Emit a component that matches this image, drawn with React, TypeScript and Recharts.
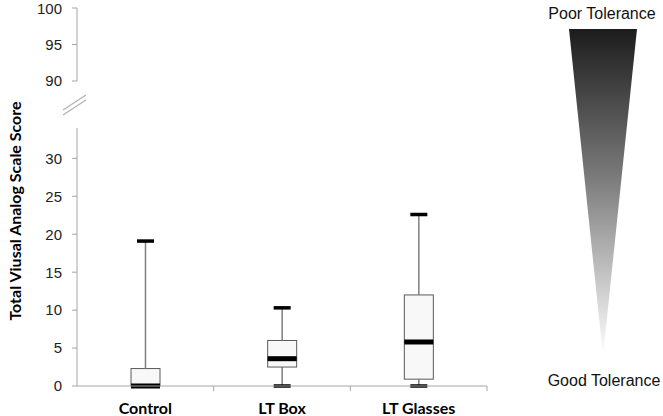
import React from "react";
import { ComposedChart, Bar, XAxis, YAxis } from "recharts";

const categories = ["Control", "LT Box", "LT Glasses"];
const minValues = [0, 0, 0];
const q1Values = [0, 2.5, 0.9];
const medianValues = [0, 3.6, 5.8];
const q3Values = [2.3, 6.0, 12.0];
const maxValues = [19.1, 10.3, 22.6];

const lowerTicks = [0, 5, 10, 15, 20, 25, 30];
const upperTicks = [90, 95, 100];

const data = categories.map((name, i) => ({
  name,
  s0: minValues[i],
  s1: q1Values[i] - minValues[i],
  s2: medianValues[i] - q1Values[i],
  s3: q3Values[i] - medianValues[i],
  s4: maxValues[i] - q3Values[i],
}));

const AXIS = "#a6a6a6";
const TICKFONT = "'Liberation Sans', Arial, sans-serif";
const BOLDFONT = "Lato, 'Open Sans', sans-serif";
const CAP_W = 17;
const CAP_H = 3.5;

const Empty = () => <g />;

const LowerWhisker = (p: any) => {
  const cx = p.x + p.width / 2;
  const yb = p.y + p.height;
  return (
    <g>
      <line x1={cx} x2={cx} y1={p.y} y2={yb} stroke="#7f7f7f" strokeWidth={1.5} />
      <rect x={cx - CAP_W / 2} y={yb - CAP_H / 2} width={CAP_W} height={CAP_H} fill="#000" />
    </g>
  );
};

const UpperWhisker = (p: any) => {
  const cx = p.x + p.width / 2;
  return (
    <g>
      <line x1={cx} x2={cx} y1={p.y} y2={p.y + p.height} stroke="#7f7f7f" strokeWidth={1.5} />
      <rect x={cx - CAP_W / 2} y={p.y - CAP_H / 2} width={CAP_W} height={CAP_H} fill="#000" />
    </g>
  );
};

const LowerBox = (p: any) => (
  <rect x={p.x} y={p.y} width={p.width} height={Math.max(p.height, 0)} fill="#f8f8f8" stroke="#5a5a5a" strokeWidth={1} />
);

const UpperBox = (p: any) => {
  const yb = p.y + p.height;
  return (
    <g>
      <rect x={p.x} y={p.y} width={p.width} height={Math.max(p.height, 0)} fill="#f8f8f8" stroke="#5a5a5a" strokeWidth={1} />
      <rect x={p.x} y={yb - 2.5} width={p.width} height={5} fill="#000" />
    </g>
  );
};

const CategoryTick = (p: any) => {
  const off = p.payload && typeof p.payload.offset === "number" ? p.payload.offset : 68;
  return (
    <g>
      <line x1={p.x + off} x2={p.x + off} y1={p.y} y2={p.y + 5} stroke={AXIS} strokeWidth={1} />
      <text x={p.x} y={p.y + 28} textAnchor="middle" fontFamily={BOLDFONT} fontWeight={700} fontSize={16} fill="#000">
        {p.payload.value}
      </text>
    </g>
  );
};

export default function App() {
  return (
    <div style={{ position: "absolute", left: 0, top: 0, width: 663, height: 416, background: "#fff", overflow: "hidden" }}>
      <div style={{ position: "absolute", left: 0, top: 0 }}>
        <ComposedChart width={663} height={90} data={data} margin={{ top: 8, right: 176, bottom: 9, left: 37 }}>
          <XAxis dataKey="name" hide height={0} />
          <YAxis
            domain={[90, 100]}
            ticks={upperTicks}
            allowDataOverflow
            width={40}
            stroke={AXIS}
            tickSize={5}
            tickMargin={10}
            tick={{ fill: "#222", fontSize: 15, fontFamily: TICKFONT }}
          />
        </ComposedChart>
      </div>
      <div style={{ position: "absolute", left: 0, top: 0 }}>
        <ComposedChart width={663} height={416} data={data} margin={{ top: 128, right: 176, bottom: 0, left: 37 }}>
          <XAxis
            dataKey="name"
            height={30}
            stroke={AXIS}
            tickLine={false}
            tickSize={0}
            tickMargin={0}
            tick={<CategoryTick />}
            interval={0}
          />
          <YAxis
            domain={[0, 34]}
            ticks={lowerTicks}
            width={40}
            stroke={AXIS}
            tickSize={5}
            tickMargin={10}
            tick={{ fill: "#222", fontSize: 15, fontFamily: TICKFONT }}
          />
          <Bar dataKey="s0" stackId="a" barSize={29} shape={<Empty />} isAnimationActive={false} />
          <Bar dataKey="s1" stackId="a" barSize={29} shape={<LowerWhisker />} isAnimationActive={false} />
          <Bar dataKey="s2" stackId="a" barSize={29} shape={<LowerBox />} isAnimationActive={false} />
          <Bar dataKey="s3" stackId="a" barSize={29} shape={<UpperBox />} isAnimationActive={false} />
          <Bar dataKey="s4" stackId="a" barSize={29} shape={<UpperWhisker />} isAnimationActive={false} />
        </ComposedChart>
      </div>
      <svg width={663} height={416} style={{ position: "absolute", left: 0, top: 0, pointerEvents: "none" }}>
        <defs>
          <linearGradient id="tol" x1="0" y1="0" x2="0" y2="1">
            <stop offset="0%" stopColor="#1c1c1c" />
            <stop offset="45%" stopColor="#7a7a7a" />
            <stop offset="100%" stopColor="#ffffff" />
          </linearGradient>
        </defs>
        <line x1={63} y1={110} x2={86} y2={95} stroke="#b0b0b0" strokeWidth={1.2} />
        <line x1={63} y1={115} x2={86} y2={100} stroke="#b0b0b0" strokeWidth={1.2} />
        <text
          transform="translate(21 211) rotate(-90)"
          textAnchor="middle"
          fontFamily={BOLDFONT}
          fontWeight={700}
          fontSize={16}
          fill="#000"
        >
          Total Viusal Analog Scale Score
        </text>
        <polygon points="569,29 637,29 603,356" fill="url(#tol)" />
        <text x={602} y={19} textAnchor="middle" fontFamily={TICKFONT} fontSize={16} fill="#111">
          Poor Tolerance
        </text>
        <text x={604} y={386} textAnchor="middle" fontFamily={TICKFONT} fontSize={16} fill="#111">
          Good Tolerance
        </text>
      </svg>
    </div>
  );
}
